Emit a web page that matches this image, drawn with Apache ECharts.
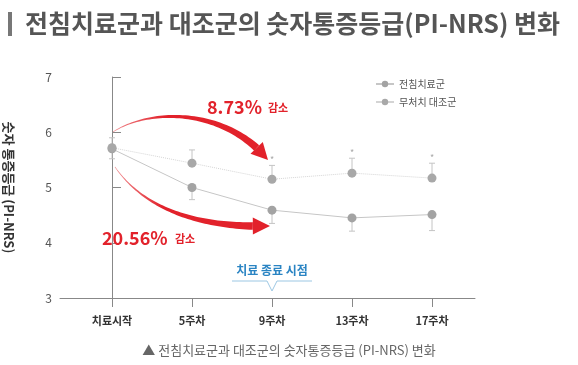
<!DOCTYPE html>
<html>
<head>
<meta charset="utf-8">
<script src="https://cdn.jsdelivr.net/npm/echarts@6/dist/echarts.min.js"></script>
<style>
html,body{margin:0;padding:0;background:#fff;}
#c{width:578px;height:365px;}
</style>
</head>
<body>
<div id="c"></div>
<script>
const categories = ['치료시작', '5주차', '9주차', '13주차', '17주차'];
const seriesNames = ['전침치료군', '무처치 대조군'];
const treatment = [5.70, 5.00, 4.59, 4.45, 4.51];
const treatmentErr = [0.18, 0.22, 0.24, 0.24, 0.29];
const control = [5.72, 5.44, 5.15, 5.26, 5.17];
const controlErr = [0.18, 0.24, 0.25, 0.27, 0.27];
const significant = [false, false, true, true, true];
const yTicks = [3, 4, 5, 6, 7];

const FONT = '"Noto Sans CJK KR", "Noto Sans", sans-serif';
const chart = echarts.init(document.getElementById('c'), null, {renderer: 'canvas'});

function errData(vals, errs, dir) {
  return vals.map((v, i) => [i, v, errs[i], dir, significant[i] ? 1 : 0]);
}

function errRender(params, api) {
  const x = api.value(0), y = api.value(1), e = api.value(2), d = api.value(3), s = api.value(4);
  const p = api.coord([x, y]);
  const q = api.coord([x, y + d * e]);
  const children = [
    {type: 'line', shape: {x1: p[0], y1: p[1], x2: q[0], y2: q[1]}, style: {stroke: '#c4c4c4', lineWidth: 1}},
    {type: 'line', shape: {x1: q[0] - 3, y1: q[1], x2: q[0] + 3, y2: q[1]}, style: {stroke: '#c4c4c4', lineWidth: 1}}
  ];
  if (s && d > 0) {
    children.push({type: 'text', style: {text: '*', x: q[0], y: q[1] - 6, fill: '#aaa', font: '9px ' + FONT, align: 'center', verticalAlign: 'middle'}});
  }
  return {type: 'group', children};
}

chart.setOption({
  animation: false,
  title: [
    {text: '전침치료군과 대조군의 숫자통증등급(PI-NRS) 변화', left: 20, top: 6,
     textStyle: {fontFamily: FONT, fontSize: 25, fontWeight: 'bold', color: '#555'}},
    {text: '▲ 전침치료군과 대조군의 숫자통증등급 (PI-NRS) 변화', left: 'center', top: 339,
     textStyle: {fontFamily: FONT, fontSize: 13, fontWeight: 'normal', color: '#666'}}
  ],
  legend: {
    orient: 'vertical', left: 370, top: 74, itemGap: 8, itemWidth: 18, itemHeight: 8,
    data: [
      {name: seriesNames[0]},
      {name: seriesNames[1], lineStyle: {type: 'solid'}}
    ],
    textStyle: {fontFamily: FONT, fontSize: 10, color: '#555'}
  },
  grid: {left: 60, right: 103, top: 77, bottom: 67, outerBoundsMode: 'none', containLabel: false},
  xAxis: {
    type: 'value', min: -0.65, max: 4.5375,
    splitLine: {show: false},
    axisLine: {show: true, lineStyle: {color: '#888'}},
    axisTick: {show: true, length: 9, lineStyle: {color: '#888'}, customValues: categories.map((c, i) => i)},
    axisLabel: {margin: 17, customValues: categories.map((c, i) => i), formatter: v => categories[Math.round(v)],
      fontFamily: FONT, fontSize: 11, fontWeight: 'bold', color: '#333'}
  },
  yAxis: {
    type: 'value', min: yTicks[0], max: yTicks[yTicks.length - 1], interval: 1,
    name: '숫자 통증등급 (PI-NRS)', nameLocation: 'middle', nameRotate: -90, nameGap: 45,
    nameTextStyle: {fontFamily: FONT, fontSize: 13, fontWeight: 'bold', color: '#333'},
    splitLine: {show: false},
    axisLine: {show: true, lineStyle: {color: '#888'}},
    axisTick: {show: true, inside: true, length: 9, lineStyle: {color: '#888'}},
    axisLabel: {margin: 8, fontFamily: FONT, fontSize: 12, color: '#555'}
  },
  series: [
    {type: 'custom', renderItem: errRender, data: errData(treatment, treatmentErr, -1), z: 1, silent: true},
    {type: 'custom', renderItem: errRender, data: errData(control, controlErr, 1), z: 1, silent: true},
    {name: seriesNames[0], type: 'line', data: treatment.map((v, i) => [i, v]), symbol: 'circle', symbolSize: 9,
     lineStyle: {color: '#c6c6c6', width: 1}, itemStyle: {color: '#a3a3a3'}, z: 3},
    {name: seriesNames[1], type: 'line', data: control.map((v, i) => [i, v]), symbol: 'circle', symbolSize: 9,
     lineStyle: {color: '#d4d4d4', width: 1, type: 'dotted'}, itemStyle: {color: '#a8a8a8'}, z: 3}
  ]
});

// annotation arrows (anchors in data space)
const arrowAnchors = [
  [[0.0125, 6.005], [0.475, 6.44], [1.4125, 6.44], [1.95, 5.50]],
  [[0.0375, 5.371], [0.4125, 4.593], [1.10, 4.267], [1.975, 4.303]]
];

function cubic(P, t) {
  const u = 1 - t;
  const a = u * u * u, b = 3 * u * u * t, c = 3 * u * t * t, d = t * t * t;
  return [a * P[0][0] + b * P[1][0] + c * P[2][0] + d * P[3][0], a * P[0][1] + b * P[1][1] + c * P[2][1] + d * P[3][1]];
}

function arrowShapes(P) {
  const N = 60, headLen = 15, headW = 17, wMin = 0.6, wMax = 7.5;
  const pts = [];
  for (let i = 0; i <= N; i++) pts.push(cubic(P, i / N));
  const tip = pts[N];
  let endIdx = N;
  while (endIdx > 0 && Math.hypot(tip[0] - pts[endIdx][0], tip[1] - pts[endIdx][1]) < headLen) endIdx--;
  const left = [], right = [];
  for (let i = 0; i <= endIdx; i++) {
    const a = pts[Math.max(0, i - 1)], b = pts[Math.min(N, i + 1)];
    let dx = b[0] - a[0], dy = b[1] - a[1];
    const L = Math.hypot(dx, dy) || 1; dx /= L; dy /= L;
    const f = i / endIdx;
    const w = (wMin + (wMax - wMin) * Math.pow(f, 1.3)) / 2;
    left.push([pts[i][0] - dy * w, pts[i][1] + dx * w]);
    right.push([pts[i][0] + dy * w, pts[i][1] - dx * w]);
  }
  const base = pts[endIdx];
  let dx = tip[0] - base[0], dy = tip[1] - base[1];
  const L = Math.hypot(dx, dy) || 1; dx /= L; dy /= L;
  const head = [[base[0] - dy * headW / 2, base[1] + dx * headW / 2], tip, [base[0] + dy * headW / 2, base[1] - dx * headW / 2]];
  return {shaft: left.concat(right.reverse()), head};
}

const graphics = [
  {type: 'rect', shape: {x: 8, y: 12, width: 4, height: 24}, style: {fill: '#777'}}
];
const red = '#e2222b';
arrowAnchors.forEach(A => {
  const P = A.map(p => chart.convertToPixel({gridIndex: 0}, p));
  const s = arrowShapes(P);
  graphics.push({type: 'polygon', shape: {points: s.shaft}, style: {fill: new echarts.graphic.LinearGradient(0, 0, 1, 0, [{offset: 0, color: '#f08a8e'}, {offset: 0.35, color: red}, {offset: 1, color: red}])}, z: 10});
  graphics.push({type: 'polygon', shape: {points: s.head}, style: {fill: red}, z: 10});
});

// percentage labels
graphics.push(
  {type: 'text', x: 207, y: 107, style: {text: '8.73%', fill: red, font: 'bold 18px ' + FONT, verticalAlign: 'middle'}, z: 11},
  {type: 'text', x: 268, y: 108, style: {text: '감소', fill: red, font: 'bold 11px ' + FONT, verticalAlign: 'middle'}, z: 11},
  {type: 'text', x: 102, y: 238, style: {text: '20.56%', fill: red, font: 'bold 18px ' + FONT, verticalAlign: 'middle'}, z: 11},
  {type: 'text', x: 175, y: 239, style: {text: '감소', fill: red, font: 'bold 11px ' + FONT, verticalAlign: 'middle'}, z: 11}
);

// treatment end callout at 9주차
const cx = chart.convertToPixel({gridIndex: 0}, [2, 3])[0];
graphics.push(
  {type: 'text', x: cx, y: 270, style: {text: '치료 종료 시점', fill: '#2a84c3', font: 'bold 12px ' + FONT, align: 'center', verticalAlign: 'middle'}, z: 11},
  {type: 'polyline', shape: {points: [[cx - 40, 281], [cx - 5, 281], [cx, 291], [cx + 5, 281], [cx + 40, 281]]}, style: {stroke: '#9cc7e3', lineWidth: 1, fill: null}, z: 11}
);

chart.setOption({graphic: graphics});
</script>
</body>
</html>
